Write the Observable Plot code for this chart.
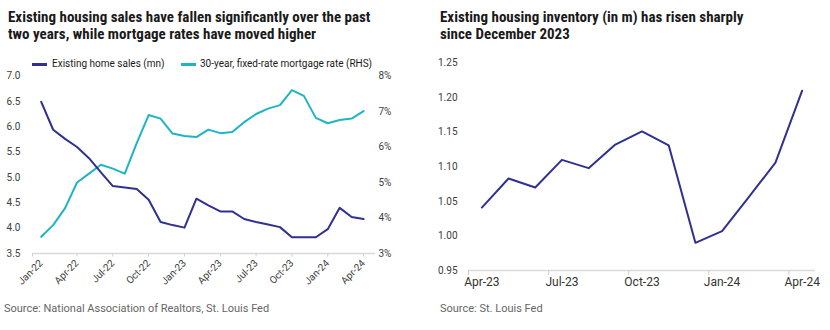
<!DOCTYPE html>
<html><head><meta charset="utf-8">
<script src="https://cdn.jsdelivr.net/npm/d3@7"></script>
<script src="https://cdn.jsdelivr.net/npm/@observablehq/plot@0.6"></script>
<style>
body{margin:0;background:#fff;width:830px;height:330px;overflow:hidden;font-family:Roboto,"Noto Sans",sans-serif;position:relative;}
.panel{position:absolute;top:0;width:415px;height:330px;}
.title{position:absolute;top:9px;font-family:"Liberation Sans Narrow","Roboto Condensed","DejaVu Sans Condensed",Roboto,sans-serif;font-weight:bold;font-size:15px;line-height:17px;color:#1a1a1a;white-space:nowrap;}
.legend{position:absolute;top:58px;font-size:10px;line-height:12px;color:#1a1a1a;}
.legend .item{position:absolute;white-space:nowrap;}
.legend .sw{position:absolute;top:5px;width:15px;height:2.5px;}
.caption{position:absolute;top:302px;font-size:11px;line-height:14px;color:#666;white-space:nowrap;}
.chart{position:absolute;top:50px;left:0;}
</style>
</head><body>
<div class="panel" id="left" style="left:0">
  <div class="title" style="left:8px">Existing housing sales have fallen significantly over the past<br>two years, while mortgage rates have moved higher</div>
  <div class="legend">
    <div class="sw" style="left:32px;background:#2e3192"></div><div class="item" style="left:52px">Existing home sales (mn)</div>
    <div class="sw" style="left:181px;background:#1fb4c3"></div><div class="item" style="left:200px">30-year, fixed-rate mortgage rate (RHS)</div>
  </div>
  <div class="chart" id="chartL"></div>
  <div class="caption" style="left:4px">Source: National Association of Realtors, St. Louis Fed</div>
</div>
<div class="panel" id="right" style="left:415px">
  <div class="title" style="left:25px">Existing housing inventory (in m) has risen sharply<br>since December 2023</div>
  <div class="chart" id="chartR"></div>
  <div class="caption" style="left:25px">Source: St. Louis Fed</div>
</div>
<script>
const months = ["Jan-22","Feb-22","Mar-22","Apr-22","May-22","Jun-22","Jul-22","Aug-22","Sep-22","Oct-22","Nov-22","Dec-22",
  "Jan-23","Feb-23","Mar-23","Apr-23","May-23","Jun-23","Jul-23","Aug-23","Sep-23","Oct-23","Nov-23","Dec-23",
  "Jan-24","Feb-24","Mar-24","Apr-24"];
const homeSales = [6.49,5.94,5.76,5.60,5.38,5.10,4.83,4.80,4.77,4.56,4.12,4.06,
  4.01,4.58,4.45,4.33,4.33,4.18,4.12,4.07,4.02,3.82,3.82,3.82,
  3.98,4.40,4.22,4.18];
const mortgageRate = [3.47,3.80,4.28,5.00,5.25,5.50,5.39,5.25,6.11,6.90,6.80,6.38,
  6.31,6.28,6.49,6.39,6.42,6.70,6.93,7.08,7.18,7.60,7.44,6.82,
  6.67,6.76,6.80,7.01];
const salesTicks = [3.5,4.0,4.5,5.0,5.5,6.0,6.5,7.0];
const rateTicks = [3,4,5,6,7,8];
const leftLabelMonths = ["Jan-22","Apr-22","Jul-22","Oct-22","Jan-23","Apr-23","Jul-23","Oct-23","Jan-24","Apr-24"];

const invMonths = ["Apr-23","May-23","Jun-23","Jul-23","Aug-23","Sep-23","Oct-23","Nov-23","Dec-23","Jan-24","Feb-24","Mar-24","Apr-24"];
const inventory = [1.041,1.083,1.070,1.110,1.098,1.132,1.151,1.131,0.990,1.007,1.056,1.106,1.210];
const invTicks = [0.95,1.00,1.05,1.10,1.15,1.20,1.25];
const rightLabelMonths = ["Apr-23","Jul-23","Oct-23","Jan-24","Apr-24"];

const blue = "#2e3192", teal = "#1fb4c3";
const toLeft = r => 3.5 + (r - 3) * 0.7;
const fromLeft = v => Math.round((v - 3.5) / 0.7 + 3);

const leftIdx = leftLabelMonths.map(m => months.indexOf(m));
const xDomL = [-0.73, 28.0];
const L = Plot.plot({
  width: 415, height: 250,
  marginTop: 25.5, marginBottom: 47, marginLeft: 32, marginRight: 40,
  x: {domain: xDomL},
  y: {domain: [3.5, 7.0]},
  style: {fontFamily: "Roboto, sans-serif", fontSize: "10px", background: "transparent"},
  marks: [
    Plot.ruleY([3.5], {stroke: "#d9d9d9", strokeWidth: 1.5}),
    Plot.axisY(salesTicks, {anchor: "left", tickSize: 0, tickPadding: 12, tickFormat: d3.format(".1f"), fill: "#404040"}),
    Plot.axisY(rateTicks.map(toLeft), {anchor: "right", tickSize: 0, tickPadding: 3, tickFormat: v => fromLeft(v) + "%", fill: "#404040"}),
    Plot.axisX(leftIdx, {tickSize: 0, tickPadding: 8, tickRotate: -45, tickFormat: i => months[i], fill: "#404040"}),
    Plot.axisX([xDomL[0], ...leftIdx.slice(1)], {tickSize: 3.5, stroke: "#d0d0d0", fill: "none"}),
    Plot.lineY(mortgageRate.map(toLeft), {stroke: teal, strokeWidth: 2}),
    Plot.lineY(homeSales, {stroke: blue, strokeWidth: 2})
  ]
});
document.getElementById("chartL").append(L);

const rightIdx = rightLabelMonths.map(m => invMonths.indexOf(m));
const R = Plot.plot({
  width: 415, height: 250,
  marginTop: 12.5, marginBottom: 30, marginLeft: 53, marginRight: 15,
  x: {domain: [-0.5, 12.5]},
  y: {domain: [0.95, 1.25]},
  style: {fontFamily: "Roboto, sans-serif", fontSize: "10px", background: "transparent"},
  marks: [
    Plot.ruleY([0.95], {stroke: "#d9d9d9", strokeWidth: 1.5}),
    Plot.axisY(invTicks, {anchor: "left", tickSize: 0, tickPadding: 11, tickFormat: d3.format(".2f"), fill: "#404040"}),
    Plot.axisX(rightIdx, {tickSize: 0, tickPadding: 7, tickFormat: i => invMonths[i], fill: "#333", fontSize: 12}),
    Plot.axisX(rightIdx.map(i => i - 0.5), {tickSize: 5, stroke: "#d0d0d0", fill: "none"}),
    Plot.lineY(inventory, {stroke: blue, strokeWidth: 2})
  ]
});
document.getElementById("chartR").append(R);
</script>
</body></html>
